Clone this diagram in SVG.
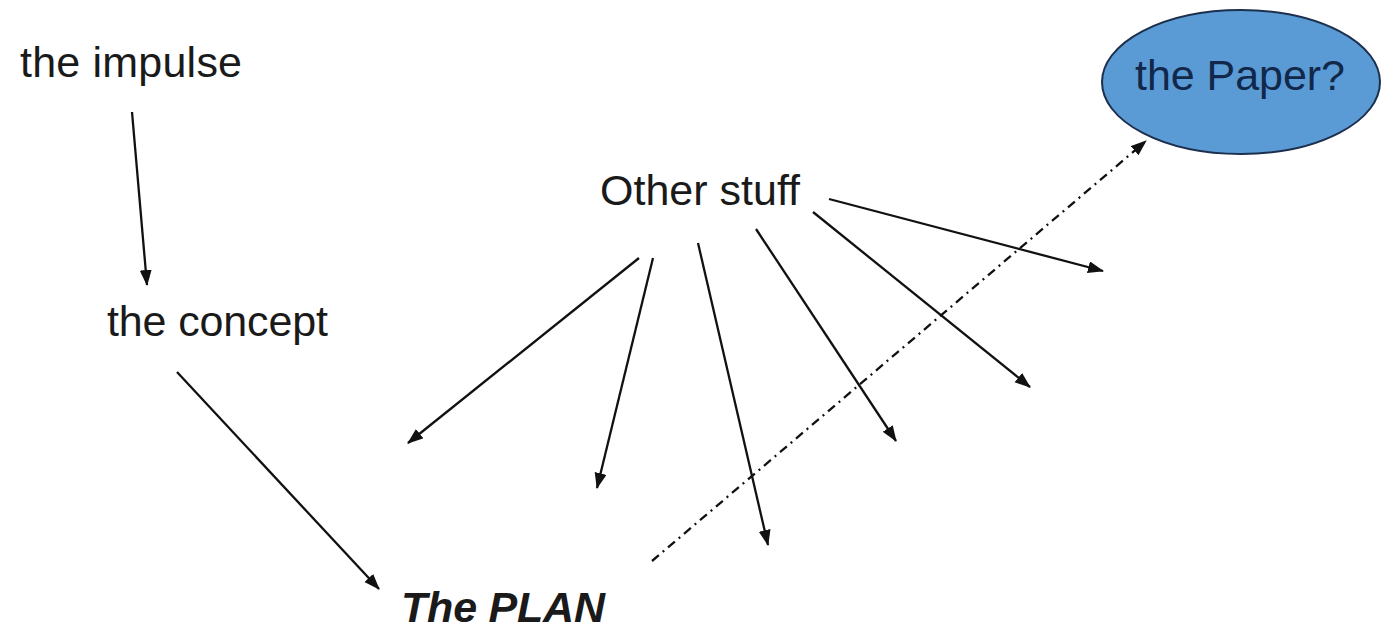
<svg xmlns="http://www.w3.org/2000/svg" width="1381" height="631" viewBox="0 0 1381 631">
  <style>
    .lbl { font-family: "Liberation Sans", Arial, sans-serif; font-size: 43px; fill: #1a1a1a; }
    .plan { font-weight: bold; font-style: italic; }
    .paper { fill: #12284a; }
    .conn { stroke: #111; stroke-width: 2.3; fill: none; marker-end: url(#arr); }
    .dash { stroke-dasharray: 9 5 2 5; }
  </style>
  <defs>
    <marker id="arr" markerUnits="userSpaceOnUse" markerWidth="16" markerHeight="13" refX="15" refY="6" orient="auto">
      <path d="M0,0 L16,6 L0,12 z" fill="#111"/>
    </marker>
  </defs>
  <rect width="1381" height="631" fill="#ffffff"/>
  <g id="node-impulse"><text class="lbl" x="20" y="77" textLength="222">the impulse</text></g>
  <g id="node-concept"><text class="lbl" x="107" y="336" textLength="221">the concept</text></g>
  <g id="node-other"><text class="lbl" x="600" y="205" textLength="200">Other stuff</text></g>
  <g id="node-plan"><text class="lbl plan" x="401" y="622" textLength="204">The PLAN</text></g>
  <g id="node-paper">
    <ellipse cx="1241" cy="82" rx="139" ry="72" fill="#5b9bd5" stroke="#1c2f4d" stroke-width="2"/>
    <text class="lbl paper" x="1135" y="90" textLength="210">the Paper?</text>
  </g>
  <g id="connectors">
    <line class="conn" x1="132" y1="112" x2="147" y2="285"/>
    <line class="conn" x1="177" y1="372" x2="379" y2="589"/>
    <line class="conn" x1="639" y1="258" x2="408" y2="443"/>
    <line class="conn" x1="653" y1="258" x2="597" y2="488"/>
    <line class="conn" x1="698" y1="243" x2="768" y2="545"/>
    <line class="conn" x1="756" y1="229" x2="896" y2="441"/>
    <line class="conn" x1="813" y1="212" x2="1030" y2="387"/>
    <line class="conn" x1="829" y1="199" x2="1103" y2="271"/>
    <line class="conn dash" x1="652" y1="561" x2="1146" y2="141"/>
  </g>
</svg>
